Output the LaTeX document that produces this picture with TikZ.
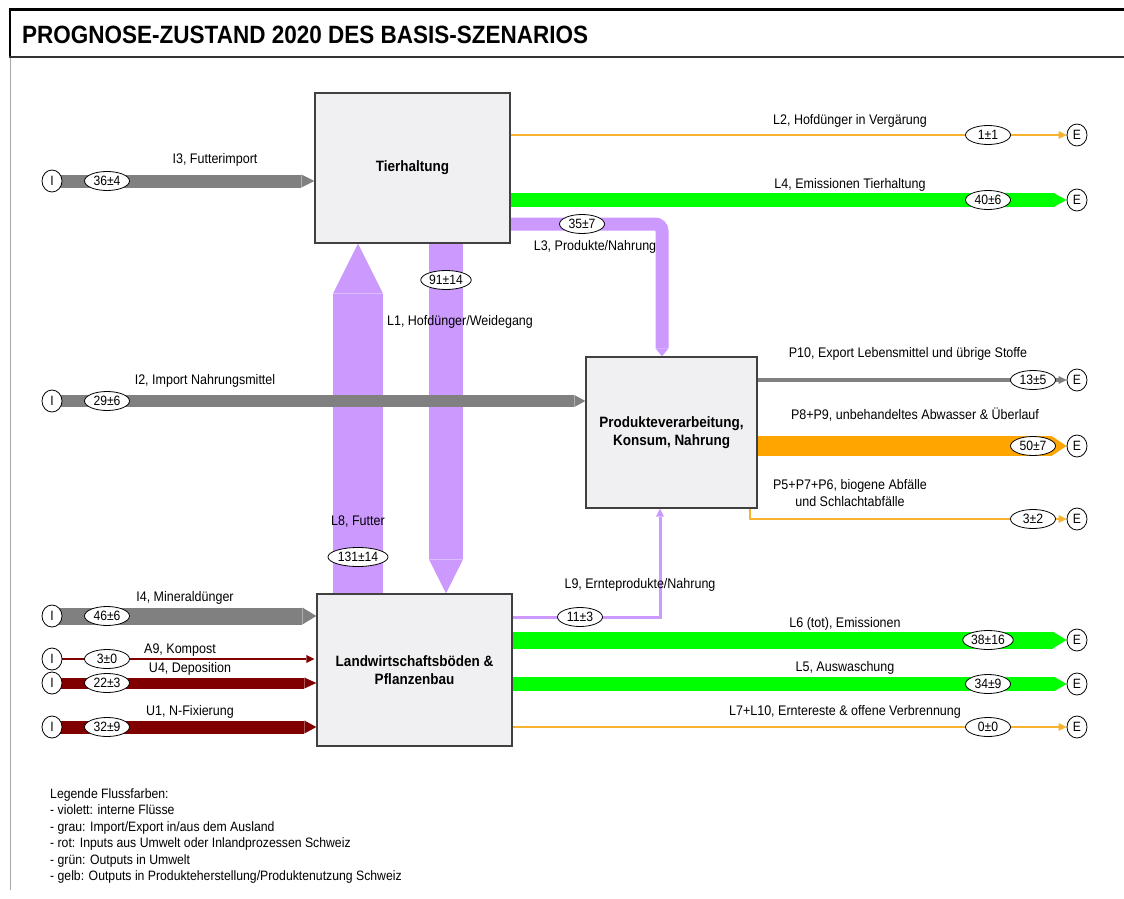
\documentclass[tikz,border=0pt]{standalone}
\usepackage{fontspec}
\setmainfont[FakeStretch=0.9]{Liberation Sans}
\newfontfamily\titlefont[FakeStretch=0.9]{Liberation Sans}
\usetikzlibrary{arrows.meta,shapes.geometric,calc}
\definecolor{viol}{HTML}{CC99FF}
\definecolor{grn}{HTML}{00FF00}
\definecolor{gry}{HTML}{808080}
\definecolor{dred}{HTML}{800000}
\definecolor{orng}{HTML}{FFA500}
\definecolor{yel}{HTML}{F7B230}
\definecolor{boxfill}{HTML}{F0F0F2}
\pgfdeclarelayer{bg}
\pgfsetlayers{bg,main}
\tikzset{
  proc/.style={draw=black!75, line width=1.3pt, fill=boxfill, align=center, inner sep=0pt,
    font=\bfseries\fontsize{15}{18}\selectfont},
  term/.style={ellipse, draw, line width=0.8pt, fill=white, minimum width=20pt, minimum height=22pt,
    inner sep=0pt, font=\fontsize{13.5}{15}\selectfont},
  val/.style={ellipse, draw, line width=0.8pt, fill=white, minimum width=45pt, minimum height=19pt,
    inner xsep=1pt, inner ysep=0pt, font=\fontsize{13.5}{15}\selectfont},
  lbl/.style={inner sep=0pt, align=center, font=\fontsize{13.9}{16.5}\selectfont},
  band/.style 2 args={line width=#1, -{Triangle[length=#2, width=#1, line width=0pt]}},
  flowline/.style={line width=#1, -{Triangle[length=8pt, width=8pt, line width=0pt]}},
}
\begin{document}
\begin{tikzpicture}[x=1pt, y=-1pt]
\useasboundingbox (0,0) rectangle (1124,899);

% process boxes
\node[proc, minimum width=195pt, minimum height=150pt] (tier) at (412.5,168) {Tierhaltung};
\node[proc, minimum width=171pt, minimum height=151pt] (prod) at (671.5,432.5) {Produkteverarbeitung,\\Konsum, Nahrung};
\node[proc, minimum width=195pt, minimum height=152pt] (land) at (414.5,670) {Landwirtschaftsböden \&\\Pflanzenbau};

% terminals
\node[term] (I3) at (52,181) {I};
\node[term] (I2) at (52,401) {I};
\node[term] (I4) at (52,616) {I};
\node[term] (A9) at (52,659) {I};
\node[term] (U4) at (52,683) {I};
\node[term] (U1) at (52,727) {I};
\node[term] (E2) at (1077,135) {E};
\node[term] (E4) at (1077,200) {E};
\node[term] (E10) at (1077,380) {E};
\node[term] (E8) at (1077,446) {E};
\node[term] (E5p) at (1077,519) {E};
\node[term] (E6) at (1077,640) {E};
\node[term] (E5) at (1077,684) {E};
\node[term] (E7) at (1077,727) {E};

% bend coordinates
\coordinate (l3) at (662,224);
\coordinate (l1) at (446,0);
\coordinate (l8) at (358,0);
\coordinate (p5) at (750,519);
\coordinate (l9) at (660,617);

\begin{pgfonlayer}{bg}
\fill[white] (0,0) rectangle (1124,899);
% header
\draw[gry!70, line width=0.8pt] (10,57) -- (10,890);
\draw[line width=3pt] (8.5,10) -- (1124,10);
\draw[line width=2pt] (10,9) -- (10,58);
\draw[black!80, line width=2.5pt] (9,57) -- (1124,57);
% flows
\draw[gry, band={13pt}{13pt}] (I3.center) -- (I3 -| tier.west);
\draw[yel, flowline=1.2pt] (tier.east |- E2) -- (E2);
\draw[grn, band={14pt}{13pt}] (tier.east |- E4) -- (E4);
\draw[viol, band={13pt}{8pt}, rounded corners=7pt] (tier.east |- l3) -| (prod.north -| l3);
\draw[viol, band={34pt}{34pt}] (tier.south -| l1) -- (land.north -| l1);
\draw[viol, band={50pt}{50pt}] (land.north -| l8) -- (tier.south -| l8);
\draw[gry, band={12pt}{11pt}] (I2.center) -- (I2 -| prod.west);
\draw[gry, flowline=4pt] (prod.east |- E10) -- (E10);
\draw[orng, band={20pt}{15pt}] (prod.east |- E8) -- (E8);
\draw[yel, flowline=1.2pt] (prod.south -| p5) |- (E5p);
\draw[viol, flowline=3pt] (land.east |- l9) -| (prod.south -| l9);
\draw[gry, band={17pt}{14pt}] (I4.center) -- (I4 -| land.west);
\draw[dred, flowline=1.5pt] (A9.center) -- ($(A9 -| land.west)+(-2,0)$);
\draw[dred, band={11pt}{12pt}] (U4.center) -- (U4 -| land.west);
\draw[dred, band={13pt}{12pt}] (U1.center) -- (U1 -| land.west);
\draw[grn, band={17pt}{14pt}] (land.east |- E6) -- (E6);
\draw[grn, band={14pt}{12pt}] (land.east |- E5) -- (E5);
\draw[yel, flowline=1.2pt] (land.east |- E7) -- (E7);
\end{pgfonlayer}

\node[anchor=base west, inner sep=0pt, font=\titlefont\bfseries\fontsize{25}{30}\selectfont] (title) at (22,44) {PROGNOSE-ZUSTAND 2020 DES BASIS-SZENARIOS};

% values
\node[val] (v36) at (107,181) {36±4};
\node[val] (v29) at (107,401) {29±6};
\node[val] (v46) at (107,616) {46±6};
\node[val] (v3) at (107,659) {3±0};
\node[val] (v22) at (107,683) {22±3};
\node[val] (v32) at (107,727) {32±9};
\node[val] (v1) at (988,135) {1±1};
\node[val] (v40) at (988,200) {40±6};
\node[val] (v35) at (582,224) {35±7};
\node[val] (v91) at (446,280) {91±14};
\node[val] (v131) at (358,557) {131±14};
\node[val] (v11) at (580,617) {11±3};
\node[val] (v13) at (1033,380) {13±5};
\node[val] (v50) at (1033,446) {50±7};
\node[val] (v3b) at (1033,519) {3±2};
\node[val] (v38) at (988,640) {38±16};
\node[val] (v34) at (988,684) {34±9};
\node[val] (v0) at (988,727) {0±0};

% labels
\node[lbl] (tI3) at (215,160) {I3, Futterimport};
\node[lbl] (tL2) at (850,121) {L2, Hofdünger in Vergärung};
\node[lbl] (tL4) at (850,185) {L4, Emissionen Tierhaltung};
\node[lbl] (tL3) at (595,247) {L3, Produkte/Nahrung};
\node[lbl] (tL1) at (460,322) {L1, Hofdünger/Weidegang};
\node[lbl] (tI2) at (205,381) {I2, Import Nahrungsmittel};
\node[lbl] (tP10) at (908,354) {P10, Export Lebensmittel und übrige Stoffe};
\node[lbl] (tP8) at (915,415) {P8+P9, unbehandeltes Abwasser \& Überlauf};
\node[lbl] (tP5) at (850,493) {P5+P7+P6, biogene Abfälle\\und Schlachtabfälle};
\node[lbl] (tL8) at (358,522) {L8, Futter};
\node[lbl] (tL9) at (640,585) {L9, Ernteprodukte/Nahrung};
\node[lbl] (tI4) at (185,598) {I4, Mineraldünger};
\node[lbl] (tA9) at (180,650) {A9, Kompost};
\node[lbl] (tU4) at (190,669) {U4, Deposition};
\node[lbl] (tU1) at (190,712) {U1, N-Fixierung};
\node[lbl] (tL6) at (845,624) {L6 (tot), Emissionen};
\node[lbl] (tL5) at (845,668) {L5, Auswaschung};
\node[lbl] (tL7) at (845,712) {L7+L10, Erntereste \& offene Verbrennung};

% legend
\node[anchor=north west, inner sep=0pt, align=left, font=\fontsize{13.6}{16.5}\selectfont] (legend) at (50,788)
  {Legende Flussfarben:\\
   - violett: interne Flüsse\\
   - grau: Import/Export in/aus dem Ausland\\
   - rot: Inputs aus Umwelt oder Inlandprozessen Schweiz\\
   - grün: Outputs in Umwelt\\
   - gelb: Outputs in Produkteherstellung/Produktenutzung Schweiz};
\end{tikzpicture}
\end{document}
